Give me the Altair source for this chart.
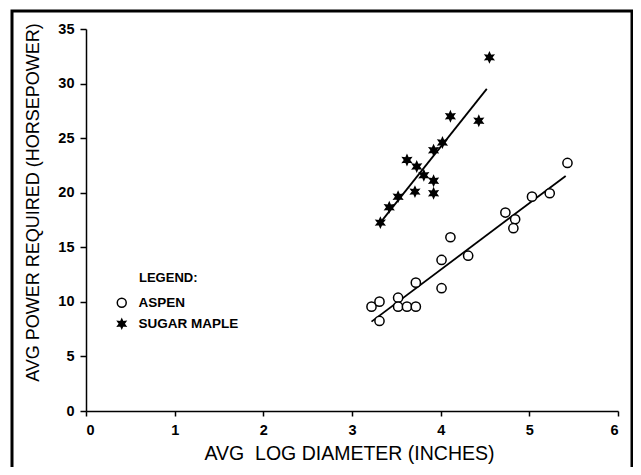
import altair as alt
import pandas as pd

# ---- data ----
series = ["ASPEN", "SUGAR MAPLE"]

aspen_x = [3.22, 3.31, 3.31, 3.52, 3.52, 3.62, 3.72, 3.72, 4.01, 4.01, 4.11, 4.31, 4.73, 4.84, 4.82, 5.03, 5.23, 5.43]
aspen_y = [9.56, 10.02, 8.25, 10.38, 9.56, 9.56, 9.56, 11.76, 11.25, 13.84, 15.92, 14.23, 18.18, 17.57, 16.75, 19.64, 19.95, 22.73]

maple_x = [3.32, 3.42, 3.52, 3.62, 3.73, 3.81, 3.71, 3.92, 3.92, 3.92, 4.02, 4.11, 4.43, 4.55]
maple_y = [17.26, 18.67, 19.64, 23.0, 22.4, 21.6, 20.1, 23.9, 21.1, 19.95, 24.6, 27.0, 26.6, 32.4]

aspen_fit_x = [3.22, 5.41]
aspen_fit_y = [8.19, 21.54]
maple_fit_x = [3.32, 4.52]
maple_fit_y = [17.26, 29.51]

x_ticks = [0, 1, 2, 3, 4, 5, 6]
y_ticks = [0, 5, 10, 15, 20, 25, 30, 35]

x_title = "AVG\u00a0 LOG DIAMETER (INCHES)"
y_title = "AVG POWER REQUIRED (HORSEPOWER)"
legend_title = "LEGEND:"

# ---- tables ----
points = pd.DataFrame({
    "x": aspen_x + maple_x,
    "y": aspen_y + maple_y,
    "species": [series[0]] * len(aspen_x) + [series[1]] * len(maple_x),
})
fits = pd.DataFrame({
    "x": aspen_fit_x + maple_fit_x,
    "y": aspen_fit_y + maple_fit_y,
    "species": [series[0]] * 2 + [series[1]] * 2,
})

STAR = ("M0,-1L0.25,-0.433L0.866,-0.5L0.5,0L0.866,0.5L0.25,0.433L0,1"
        "L-0.25,0.433L-0.866,0.5L-0.5,0L-0.866,-0.5L-0.25,-0.433Z")

FONT = "Liberation Sans"

X = alt.X("x:Q", scale=alt.Scale(domain=[0, 6], nice=False, zero=False),
          axis=alt.Axis(values=x_ticks, title=x_title, tickSize=5, labelPadding=7,
                        titleX=263, titleY=42, titleBaseline="middle", titleFontSize=19.5))
Y = alt.Y("y:Q", scale=alt.Scale(domain=[0, 35], nice=False, zero=False),
          axis=alt.Axis(values=y_ticks, title=y_title, tickSize=6, labelPadding=6,
                        titleX=-53, titleY=173, titleBaseline="middle", titleAlign="center",
                        titleFontSize=18))

leg = alt.Legend(title=None, orient="none", legendX=29, legendY=267,
                 labelFont=FONT, labelFontSize=13.5, labelFontWeight="bold", labelColor="black",
                 labelOffset=10, rowPadding=5, symbolSize=80, symbolStrokeWidth=1.5)

frame = alt.Chart(pd.DataFrame({"d": [0]})).mark_rect(
    filled=False, stroke="black", strokeWidth=3, clip=False
).encode(x=alt.value(-74), x2=alt.value(546), y=alt.value(-18), y2=alt.value(470))

lines = alt.Chart(fits).mark_line(color="black", strokeWidth=1.8).encode(
    x=X, y=Y, detail="species:N"
)

pts = alt.Chart(points).mark_point(filled=True, strokeWidth=1.5,
                                   opacity=1, size=85).encode(
    x=X, y=Y,
    shape=alt.Shape("species:N", scale=alt.Scale(domain=series, range=["circle", STAR]), legend=leg),
    fill=alt.Fill("species:N", scale=alt.Scale(domain=series, range=["white", "black"]), legend=leg),
    stroke=alt.Stroke("species:N", scale=alt.Scale(domain=series, range=["black", "black"]), legend=leg),
)

leg_text = alt.Chart(pd.DataFrame({"t": [legend_title]})).mark_text(
    align="left", baseline="middle", font=FONT, fontSize=13, fontWeight="bold", color="black"
).encode(x=alt.value(53), y=alt.value(249), text="t:N")

chart = alt.layer(frame, lines, pts, leg_text).properties(
    width=532, height=382,
    padding={"left": 78, "top": 21, "right": 15, "bottom": 56},
    autosize=alt.AutoSizeParams(type="none"),
).configure_view(stroke=None).configure_axis(
    grid=False, domainColor="black", domainWidth=1.5, tickColor="black", tickWidth=1.5,
    labelFont=FONT, labelFontSize=14.5, labelFontWeight="bold", labelColor="black",
    titleFont=FONT, titleFontWeight="normal", titleColor="black",
)

chart.save("out.html", embed_options={"renderer": "svg", "actions": False})
